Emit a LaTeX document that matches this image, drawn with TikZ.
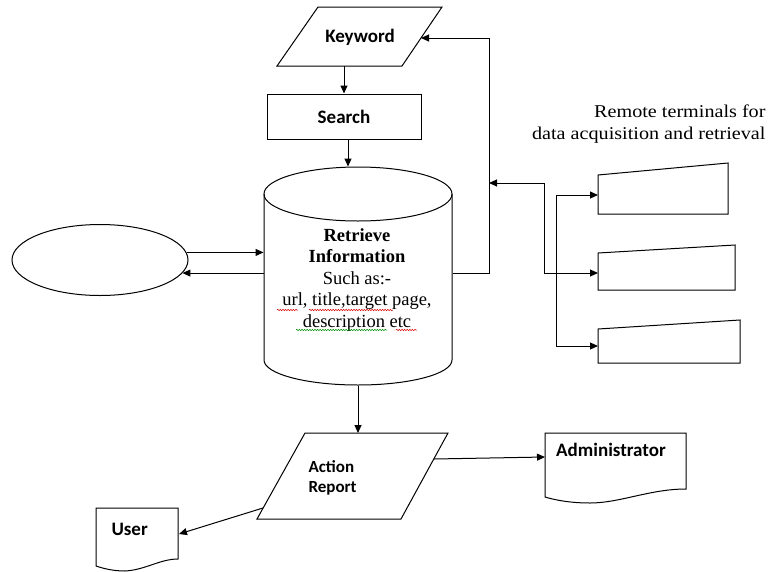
\documentclass[tikz,border=0pt]{standalone}
\usepackage{fontspec}
\setmainfont{Liberation Serif}
\newfontfamily\labelfont{Carlito}
\newfontfamily\widefont[FakeStretch=1.12]{Liberation Serif}
\usetikzlibrary{arrows.meta,shapes.geometric,decorations.pathmorphing}

\begin{document}
\begin{tikzpicture}[x=1pt,y=-1pt,
  line width=1pt,
  arr/.style={-{Triangle[length=8pt,width=7pt]}},
  outline/.style={draw=black,line width=1pt},
  boxlabel/.style={font=\labelfont\bfseries\fontsize{19}{20}\selectfont,inner sep=0pt},
  dbfont/.style={font=\rmfamily\fontsize{18.5}{21.5}\selectfont,inner sep=0pt},
  spellred/.style={draw=red!85!black,line width=0.5pt,decorate,
    decoration={snake,amplitude=0.7pt,segment length=2.6pt}},
  spellgreen/.style={draw=green!55!black,line width=0.5pt,decorate,
    decoration={snake,amplitude=0.7pt,segment length=2.6pt}}
]
\useasboundingbox (0,0) rectangle (769,571);

% ---- Keyword (input parallelogram)
\draw[outline] (318,7) -- (442,7) -- (402,66) -- (277,66) -- cycle;
\node[boxlabel] (kw) at (360,37) {Keyword};
\coordinate (kwB) at (344,66);
\coordinate (kwR) at (421,38);

% ---- Search (process box)
\node[outline,minimum width=154pt,minimum height=45pt,inner sep=0pt] (search) at (344,116.5) {};
\node[boxlabel] (searchtxt) at (search.center) {Search};

% ---- Database cylinder
\node[minimum width=188pt,minimum height=218pt,inner sep=0pt] (db) at (358,276) {};
\draw[outline] (358,194) ellipse [x radius=94pt,y radius=27pt];
\draw[outline] (264,194) -- (264,360) arc[start angle=180,end angle=360,x radius=94pt,y radius=25pt] -- (452,194);
\node[dbfont,align=center] (dbtxt) at (357,280)
  {\textbf{Retrieve}\\\textbf{Information}\\Such as:-\\url, title,target page,\\description etc};
% spelling marks under the text
\draw[spellred] (277,310) -- (298,310);
\draw[spellred] (309,310) -- (393,310);
\draw[spellgreen] (296,330) -- (387,330);
\draw[spellred] (396,330) -- (417,330);

% ---- External entity
\node[ellipse,outline,minimum width=176pt,minimum height=71pt,inner sep=0pt] (ext) at (100,260) {};

% ---- Remote terminals (manual input shapes)
\draw[outline] (598,175) -- (728,163) -- (728,214) -- (598,214) -- cycle;
\draw[outline] (598,253) -- (735,245) -- (735,290) -- (598,290) -- cycle;
\draw[outline] (598,329) -- (740,320) -- (740,363) -- (598,363) -- cycle;
\coordinate (t1in) at (598,195);
\coordinate (t2in) at (598,273);
\coordinate (t3in) at (598,346);
\node[inner sep=0pt,align=right,anchor=east,font=\widefont\fontsize{18}{22}\selectfont] (remote) at (766,124)
  {Remote terminals for\\data acquisition and retrieval};

% ---- Action Report (parallelogram)
\draw[outline] (305,433) -- (448,433) -- (401,519) -- (257,519) -- cycle;
\node[inner sep=0pt,align=left,anchor=west,font=\labelfont\bfseries\fontsize{17}{20}\selectfont] (ar) at (308,478) {Action\\Report};
\coordinate (arTop) at (358,433);
\coordinate (arL) at (263,508);
\coordinate (arR) at (434,459);

% ---- User (document)
\draw[outline] (96,508) -- (178,508) -- (178,559)
  .. controls (160,559) and (145,570) .. (125,571)
  .. controls (112,571) and (102,568) .. (96,566) -- cycle;
\node[boxlabel,anchor=west] (user) at (111,529) {User};
\coordinate (userIn) at (179,534);

% ---- Administrator (document)
\draw[outline] (545,433) -- (686,433) -- (686,489)
  .. controls (650,489) and (620,503) .. (590,503)
  .. controls (570,503) and (555,500) .. (545,497) -- cycle;
\node[boxlabel] (adm) at (611,450) {Administrator};
\coordinate (admIn) at (545,457);

% ---- Junctions on the terminal side
\coordinate (bus) at (489,183);
\coordinate (jA) at (544,183);
\coordinate (jB) at (556,273);

% ---- Connectors
\draw[arr] (kwB) -- (search.north -| kwB);
\draw[arr] ([xshift=4pt]search.south) -- ([xshift=4pt]search.south |- db.north);
\draw[arr] (ext.5) -- (ext.5 -| db.west);
\draw[arr] (db.west |- ext.-9) -- (ext.-9);
\draw[arr] ([yshift=3pt]db.east) -- ++(37,0) |- (kwR);
\draw[arr] (jA) -- (bus);
\draw[arr] (jA) |- (t2in);
\draw[arr] (jB) |- (t1in);
\draw[arr] (jB) |- (t3in);
\draw[arr] (db.south) -- (arTop);
\draw[arr] (arL) -- (userIn);
\draw[arr] (arR) -- (admIn);
\end{tikzpicture}
\end{document}
